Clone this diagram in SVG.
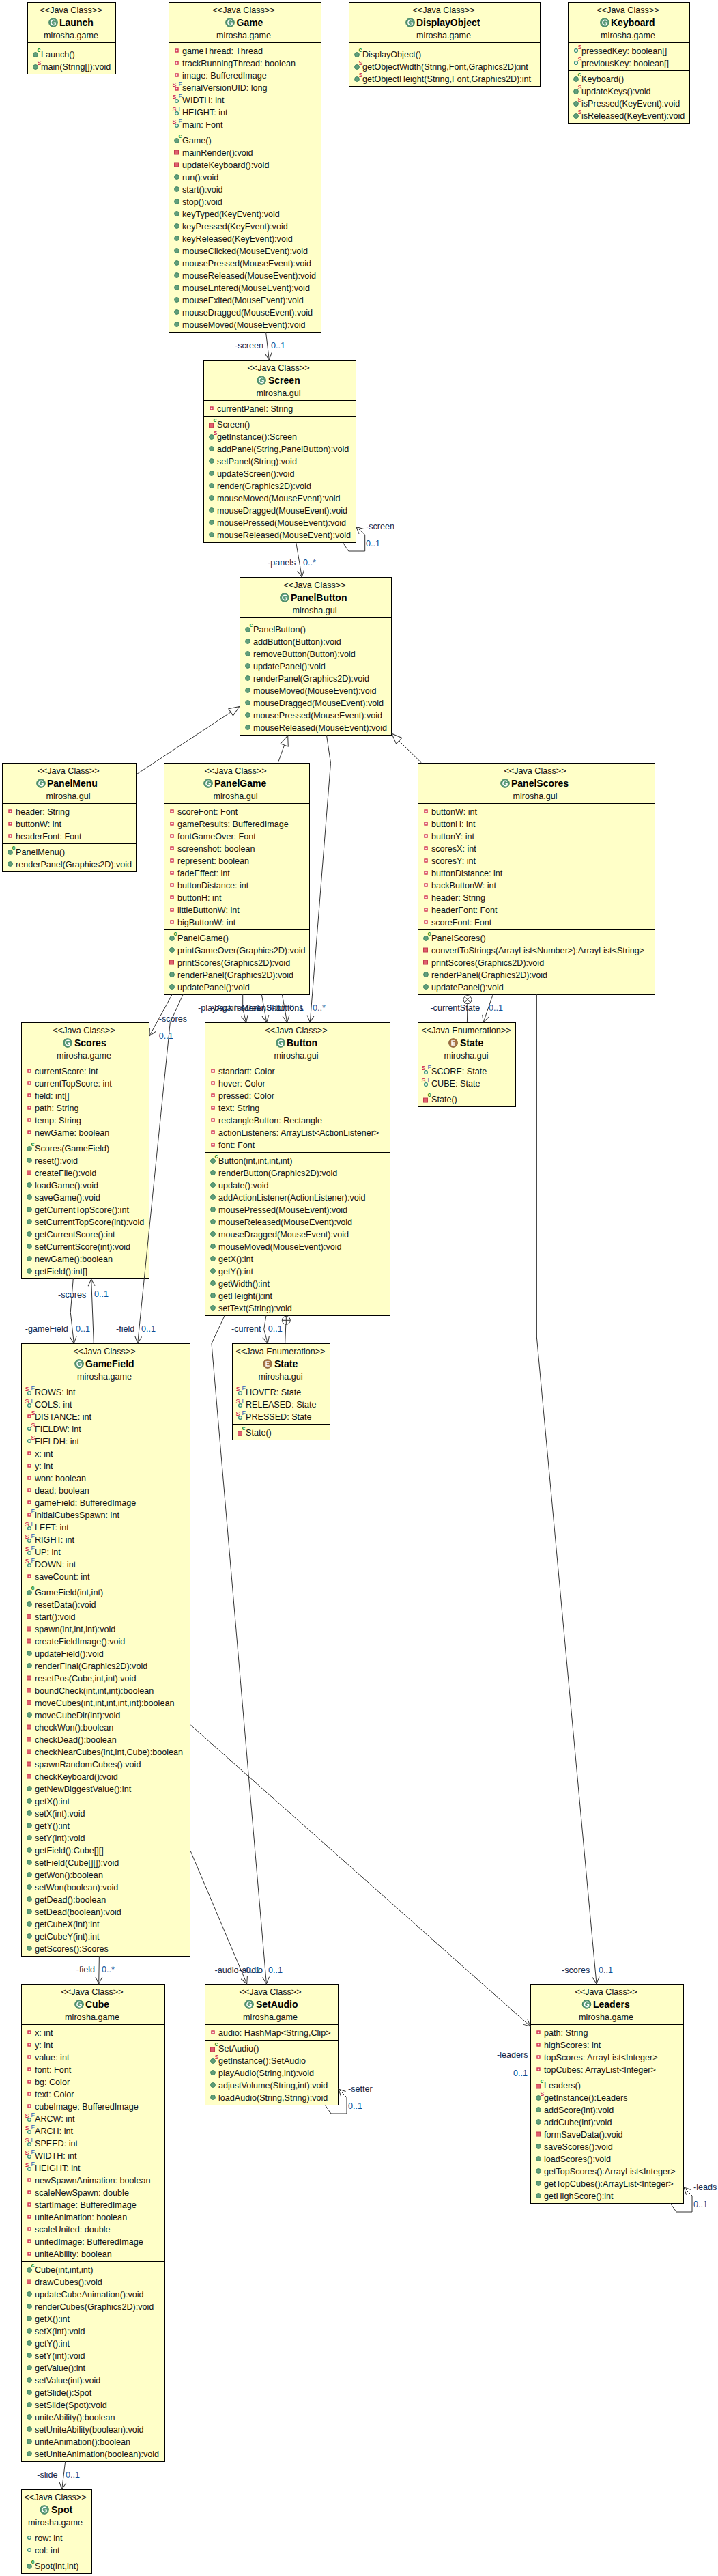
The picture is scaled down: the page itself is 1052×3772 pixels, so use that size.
<svg xmlns="http://www.w3.org/2000/svg" width="1052" height="3772" viewBox="0 0 1052 3772">
<style>
text{font-family:"Liberation Sans",Arial,sans-serif;font-size:12.6px;fill:#111}
.c{text-anchor:middle}
.n{font-weight:bold;font-size:14px;fill:#000}
.b{fill:#ffffc8;stroke:#000;stroke-width:1}
.d{fill:none;stroke:#000;stroke-width:1}
.l{fill:#12284a}
.m{fill:#0b4f96}
.a,.g{fill:none;stroke:#333;stroke-width:1}
.a{marker-end:url(#o)}
.g{marker-end:url(#t)}
.n0{fill:none;stroke:#333;stroke-width:1}
.sc{font-size:9px;font-weight:bold;fill:#0a8a2a}
.ss{font-size:9px;fill:#c8003c}
.sf{font-size:9px;fill:#2a62b8}
</style>
<defs>
<marker id="o" markerUnits="userSpaceOnUse" markerWidth="12" markerHeight="12" refX="11" refY="6" orient="auto" overflow="visible"><path d="M1 1L11 6L1 11" fill="none" stroke="#333"/></marker>
<marker id="t" markerUnits="userSpaceOnUse" markerWidth="16" markerHeight="14" refX="15" refY="7" orient="auto" overflow="visible"><path d="M0 1L15 7L0 13Z" fill="#fff" stroke="#333"/></marker>
<g id="ci"><circle r="6.3" fill="#5a9a78" stroke="#3e7f60"/><path d="M3 -2.6A3.6 3.6 0 1 0 3 2.6V0.4H0.6" fill="none" stroke="#fff" stroke-width="1.6"/></g>
<g id="ei"><circle r="6.3" fill="#a87445" stroke="#7f5630"/><path d="M2.8 -3H-2V3H2.8M-2 0H2" fill="none" stroke="#fff" stroke-width="1.5"/></g>
<circle id="mp" cx="12" cy="0" r="3.4" fill="#629f7c" stroke="#3f8562"/>
<rect id="mr" x="8.5" y="-3" width="6" height="6" fill="#e0606e" stroke="#c23a4c"/>
<rect id="fr" x="10" y="-2" width="4" height="4" fill="#fbe0e0" stroke="#d02f50" stroke-width="1.4"/>
<circle id="fp" cx="12" cy="0" r="2.4" fill="#eef6e8" stroke="#2f8a72" stroke-width="1.2"/>
<g id="mc"><use href="#mp" y="1"/><text class="sc" x="14.5" y="-3">c</text></g>
<g id="ms"><use href="#mp" y="1"/><text class="ss" x="14.5" y="-2">S</text></g>
<g id="mrc"><use href="#mr" y="2"/><text class="sc" x="14.5" y="-3">c</text></g>
<g id="fs"><use href="#fp"/><text class="ss" x="14.5" y="-2">S</text></g>
<g id="fsf"><use href="#fp" y="2"/><text class="ss" x="5.5" y="-1">S</text><text class="sf" x="14.5" y="-2">F</text></g>
<g id="frsf"><use href="#fr" y="2"/><text class="ss" x="5.5" y="-1">S</text><text class="sf" x="14.5" y="-2">F</text></g>
<g id="frs"><use href="#fr"/><text class="ss" x="14.5" y="-2">S</text></g>
<g id="frf"><use href="#fr"/><text class="sf" x="14.5" y="-2">F</text></g>
</defs>
<rect width="1052" height="3772" fill="#fff"/>

<g id="Launch" transform="translate(40,3)"><rect class="b" x=".5" y=".5" width="129" height="105"/><path class="d" d="M0 59.5H129M0 64.5H129"/>
<text class="c" x="64" y="16">&lt;&lt;Java Class&gt;&gt;</text><use href="#ci" x="38" y="30"/><text class="n" x="47" y="35">Launch</text><text class="c" x="64" y="53">mirosha.game</text>
<g transform="translate(0,64)"><use href="#mc" y="12"/><text x="20" y="16.5">Launch()</text><use href="#ms" y="30"/><text x="20" y="34.5">main(String[]):void</text></g></g>

<g id="Game" transform="translate(247,3)"><rect class="b" x=".5" y=".5" width="223" height="483"/><path class="d" d="M0 59.5H223M0 190.5H223"/>
<text class="c" x="110" y="16">&lt;&lt;Java Class&gt;&gt;</text><use href="#ci" x="90" y="30"/><text class="n" x="99.5" y="35">Game</text><text class="c" x="110" y="53">mirosha.game</text>
<g transform="translate(0,59)"><use href="#fr" y="12"/><text x="20" y="16.5">gameThread: Thread</text><use href="#fr" y="30"/><text x="20" y="34.5">trackRunningThread: boolean</text><use href="#fr" y="48"/><text x="20" y="52.5">image: BufferedImage</text><use href="#frsf" y="66"/><text x="20" y="70.5">serialVersionUID: long</text><use href="#fsf" y="84"/><text x="20" y="88.5">WIDTH: int</text><use href="#fsf" y="102"/><text x="20" y="106.5">HEIGHT: int</text><use href="#fsf" y="120"/><text x="20" y="124.5">main: Font</text></g>
<g transform="translate(0,190)"><use href="#mc" y="12"/><text x="20" y="16.5">Game()</text><use href="#mr" y="30"/><text x="20" y="34.5">mainRender():void</text><use href="#mr" y="48"/><text x="20" y="52.5">updateKeyboard():void</text><use href="#mp" y="66"/><text x="20" y="70.5">run():void</text><use href="#mp" y="84"/><text x="20" y="88.5">start():void</text><use href="#mp" y="102"/><text x="20" y="106.5">stop():void</text><use href="#mp" y="120"/><text x="20" y="124.5">keyTyped(KeyEvent):void</text><use href="#mp" y="138"/><text x="20" y="142.5">keyPressed(KeyEvent):void</text><use href="#mp" y="156"/><text x="20" y="160.5">keyReleased(KeyEvent):void</text><use href="#mp" y="174"/><text x="20" y="178.5">mouseClicked(MouseEvent):void</text><use href="#mp" y="192"/><text x="20" y="196.5">mousePressed(MouseEvent):void</text><use href="#mp" y="210"/><text x="20" y="214.5">mouseReleased(MouseEvent):void</text><use href="#mp" y="228"/><text x="20" y="232.5">mouseEntered(MouseEvent):void</text><use href="#mp" y="246"/><text x="20" y="250.5">mouseExited(MouseEvent):void</text><use href="#mp" y="264"/><text x="20" y="268.5">mouseDragged(MouseEvent):void</text><use href="#mp" y="282"/><text x="20" y="286.5">mouseMoved(MouseEvent):void</text></g></g>

<g id="DisplayObject" transform="translate(511,3)"><rect class="b" x=".5" y=".5" width="280" height="123"/><path class="d" d="M0 59.5H280M0 64.5H280"/>
<text class="c" x="139" y="16">&lt;&lt;Java Class&gt;&gt;</text><use href="#ci" x="90" y="30"/><text class="n" x="99" y="35">DisplayObject</text><text class="c" x="139" y="53">mirosha.game</text>
<g transform="translate(0,64)"><use href="#mc" y="12"/><text x="20" y="16.5">DisplayObject()</text><use href="#ms" y="30"/><text x="20" y="34.5">getObjectWidth(String,Font,Graphics2D):int</text><use href="#ms" y="48"/><text x="20" y="52.5">getObjectHeight(String,Font,Graphics2D):int</text></g></g>

<g id="Keyboard" transform="translate(832,3)"><rect class="b" x=".5" y=".5" width="178" height="177"/><path class="d" d="M0 59.5H178M0 100.5H178"/>
<text class="c" x="88" y="16">&lt;&lt;Java Class&gt;&gt;</text><use href="#ci" x="54" y="30"/><text class="n" x="63" y="35">Keyboard</text><text class="c" x="88" y="53">mirosha.game</text>
<g transform="translate(0,59)"><use href="#fs" y="12"/><text x="20" y="16.5">pressedKey: boolean[]</text><use href="#fs" y="30"/><text x="20" y="34.5">previousKey: boolean[]</text></g>
<g transform="translate(0,100)"><use href="#mc" y="12"/><text x="20" y="16.5">Keyboard()</text><use href="#ms" y="30"/><text x="20" y="34.5">updateKeys():void</text><use href="#ms" y="48"/><text x="20" y="52.5">isPressed(KeyEvent):void</text><use href="#ms" y="66"/><text x="20" y="70.5">isReleased(KeyEvent):void</text></g></g>

<g id="Screen" transform="translate(298,527)"><rect class="b" x=".5" y=".5" width="223" height="267"/><path class="d" d="M0 59.5H223M0 82.5H223"/>
<text class="c" x="110" y="16">&lt;&lt;Java Class&gt;&gt;</text><use href="#ci" x="85" y="30"/><text class="n" x="95" y="35">Screen</text><text class="c" x="110" y="53">mirosha.gui</text>
<g transform="translate(0,59)"><use href="#fr" y="12"/><text x="20" y="16.5">currentPanel: String</text></g>
<g transform="translate(0,82)"><use href="#mrc" y="12"/><text x="20" y="16.5">Screen()</text><use href="#ms" y="30"/><text x="20" y="34.5">getInstance():Screen</text><use href="#mp" y="48"/><text x="20" y="52.5">addPanel(String,PanelButton):void</text><use href="#mp" y="66"/><text x="20" y="70.5">setPanel(String):void</text><use href="#mp" y="84"/><text x="20" y="88.5">updateScreen():void</text><use href="#mp" y="102"/><text x="20" y="106.5">render(Graphics2D):void</text><use href="#mp" y="120"/><text x="20" y="124.5">mouseMoved(MouseEvent):void</text><use href="#mp" y="138"/><text x="20" y="142.5">mouseDragged(MouseEvent):void</text><use href="#mp" y="156"/><text x="20" y="160.5">mousePressed(MouseEvent):void</text><use href="#mp" y="174"/><text x="20" y="178.5">mouseReleased(MouseEvent):void</text></g></g>

<g id="PanelButton" transform="translate(351,845)"><rect class="b" x=".5" y=".5" width="222" height="231"/><path class="d" d="M0 59.5H222M0 64.5H222"/>
<text class="c" x="110" y="16">&lt;&lt;Java Class&gt;&gt;</text><use href="#ci" x="66" y="30"/><text class="n" x="75" y="35">PanelButton</text><text class="c" x="110" y="53">mirosha.gui</text>
<g transform="translate(0,64)"><use href="#mc" y="12"/><text x="20" y="16.5">PanelButton()</text><use href="#mp" y="30"/><text x="20" y="34.5">addButton(Button):void</text><use href="#mp" y="48"/><text x="20" y="52.5">removeButton(Button):void</text><use href="#mp" y="66"/><text x="20" y="70.5">updatePanel():void</text><use href="#mp" y="84"/><text x="20" y="88.5">renderPanel(Graphics2D):void</text><use href="#mp" y="102"/><text x="20" y="106.5">mouseMoved(MouseEvent):void</text><use href="#mp" y="120"/><text x="20" y="124.5">mouseDragged(MouseEvent):void</text><use href="#mp" y="138"/><text x="20" y="142.5">mousePressed(MouseEvent):void</text><use href="#mp" y="156"/><text x="20" y="160.5">mouseReleased(MouseEvent):void</text></g></g>

<g id="PanelMenu" transform="translate(3,1117)"><rect class="b" x=".5" y=".5" width="196" height="159"/><path class="d" d="M0 59.5H196M0 118.5H196"/>
<text class="c" x="97" y="16">&lt;&lt;Java Class&gt;&gt;</text><use href="#ci" x="57" y="30"/><text class="n" x="66" y="35">PanelMenu</text><text class="c" x="97" y="53">mirosha.gui</text>
<g transform="translate(0,59)"><use href="#fr" y="12"/><text x="20" y="16.5">header: String</text><use href="#fr" y="30"/><text x="20" y="34.5">buttonW: int</text><use href="#fr" y="48"/><text x="20" y="52.5">headerFont: Font</text></g>
<g transform="translate(0,118)"><use href="#mc" y="12"/><text x="20" y="16.5">PanelMenu()</text><use href="#mp" y="30"/><text x="20" y="34.5">renderPanel(Graphics2D):void</text></g></g>

<g id="PanelGame" transform="translate(240,1117)"><rect class="b" x=".5" y=".5" width="213" height="339"/><path class="d" d="M0 59.5H213M0 244.5H213"/>
<text class="c" x="105" y="16">&lt;&lt;Java Class&gt;&gt;</text><use href="#ci" x="65" y="30"/><text class="n" x="74" y="35">PanelGame</text><text class="c" x="105" y="53">mirosha.gui</text>
<g transform="translate(0,59)"><use href="#fr" y="12"/><text x="20" y="16.5">scoreFont: Font</text><use href="#fr" y="30"/><text x="20" y="34.5">gameResults: BufferedImage</text><use href="#fr" y="48"/><text x="20" y="52.5">fontGameOver: Font</text><use href="#fr" y="66"/><text x="20" y="70.5">screenshot: boolean</text><use href="#fr" y="84"/><text x="20" y="88.5">represent: boolean</text><use href="#fr" y="102"/><text x="20" y="106.5">fadeEffect: int</text><use href="#fr" y="120"/><text x="20" y="124.5">buttonDistance: int</text><use href="#fr" y="138"/><text x="20" y="142.5">buttonH: int</text><use href="#fr" y="156"/><text x="20" y="160.5">littleButtonW: int</text><use href="#fr" y="174"/><text x="20" y="178.5">bigButtonW: int</text></g>
<g transform="translate(0,244)"><use href="#mc" y="12"/><text x="20" y="16.5">PanelGame()</text><use href="#mp" y="30"/><text x="20" y="34.5">printGameOver(Graphics2D):void</text><use href="#mr" y="48"/><text x="20" y="52.5">printScores(Graphics2D):void</text><use href="#mp" y="66"/><text x="20" y="70.5">renderPanel(Graphics2D):void</text><use href="#mp" y="84"/><text x="20" y="88.5">updatePanel():void</text></g></g>

<g id="PanelScores" transform="translate(612,1117)"><rect class="b" x=".5" y=".5" width="347" height="339"/><path class="d" d="M0 59.5H347M0 244.5H347"/>
<text class="c" x="172" y="16">&lt;&lt;Java Class&gt;&gt;</text><use href="#ci" x="128" y="30"/><text class="n" x="137" y="35">PanelScores</text><text class="c" x="172" y="53">mirosha.gui</text>
<g transform="translate(0,59)"><use href="#fr" y="12"/><text x="20" y="16.5">buttonW: int</text><use href="#fr" y="30"/><text x="20" y="34.5">buttonH: int</text><use href="#fr" y="48"/><text x="20" y="52.5">buttonY: int</text><use href="#fr" y="66"/><text x="20" y="70.5">scoresX: int</text><use href="#fr" y="84"/><text x="20" y="88.5">scoresY: int</text><use href="#fr" y="102"/><text x="20" y="106.5">buttonDistance: int</text><use href="#fr" y="120"/><text x="20" y="124.5">backButtonW: int</text><use href="#fr" y="138"/><text x="20" y="142.5">header: String</text><use href="#fr" y="156"/><text x="20" y="160.5">headerFont: Font</text><use href="#fr" y="174"/><text x="20" y="178.5">scoreFont: Font</text></g>
<g transform="translate(0,244)"><use href="#mc" y="12"/><text x="20" y="16.5">PanelScores()</text><use href="#mr" y="30"/><text x="20" y="34.5">convertToStrings(ArrayList&lt;Number&gt;):ArrayList&lt;String&gt;</text><use href="#mr" y="48"/><text x="20" y="52.5">printScores(Graphics2D):void</text><use href="#mp" y="66"/><text x="20" y="70.5">renderPanel(Graphics2D):void</text><use href="#mp" y="84"/><text x="20" y="88.5">updatePanel():void</text></g></g>

<g id="PanelScoresState" transform="translate(612,1497)"><rect class="b" x=".5" y=".5" width="143" height="123"/><path class="d" d="M0 59.5H143M0 100.5H143"/>
<text class="c" x="71" y="16">&lt;&lt;Java Enumeration&gt;&gt;</text><use href="#ei" x="52" y="30"/><text class="n" x="62" y="35">State</text><text class="c" x="71" y="53">mirosha.gui</text>
<g transform="translate(0,59)"><use href="#fsf" y="12"/><text x="20" y="16.5">SCORE: State</text><use href="#fsf" y="30"/><text x="20" y="34.5">CUBE: State</text></g>
<g transform="translate(0,100)"><use href="#mrc" y="12"/><text x="20" y="16.5">State()</text></g></g>

<g id="Scores" transform="translate(31,1497)"><rect class="b" x=".5" y=".5" width="187" height="375"/><path class="d" d="M0 59.5H187M0 172.5H187"/>
<text class="c" x="92" y="16">&lt;&lt;Java Class&gt;&gt;</text><use href="#ci" x="68" y="30"/><text class="n" x="78" y="35">Scores</text><text class="c" x="92" y="53">mirosha.game</text>
<g transform="translate(0,59)"><use href="#fr" y="12"/><text x="20" y="16.5">currentScore: int</text><use href="#fr" y="30"/><text x="20" y="34.5">currentTopScore: int</text><use href="#fr" y="48"/><text x="20" y="52.5">field: int[]</text><use href="#fr" y="66"/><text x="20" y="70.5">path: String</text><use href="#fr" y="84"/><text x="20" y="88.5">temp: String</text><use href="#fr" y="102"/><text x="20" y="106.5">newGame: boolean</text></g>
<g transform="translate(0,172)"><use href="#mc" y="12"/><text x="20" y="16.5">Scores(GameField)</text><use href="#mp" y="30"/><text x="20" y="34.5">reset():void</text><use href="#mr" y="48"/><text x="20" y="52.5">createFile():void</text><use href="#mp" y="66"/><text x="20" y="70.5">loadGame():void</text><use href="#mp" y="84"/><text x="20" y="88.5">saveGame():void</text><use href="#mp" y="102"/><text x="20" y="106.5">getCurrentTopScore():int</text><use href="#mp" y="120"/><text x="20" y="124.5">setCurrentTopScore(int):void</text><use href="#mp" y="138"/><text x="20" y="142.5">getCurrentScore():int</text><use href="#mp" y="156"/><text x="20" y="160.5">setCurrentScore(int):void</text><use href="#mp" y="174"/><text x="20" y="178.5">newGame():boolean</text><use href="#mp" y="192"/><text x="20" y="196.5">getField():int[]</text></g></g>

<g id="Button" transform="translate(300,1497)"><rect class="b" x=".5" y=".5" width="271" height="429"/><path class="d" d="M0 59.5H271M0 190.5H271"/>
<text class="c" x="134" y="16">&lt;&lt;Java Class&gt;&gt;</text><use href="#ci" x="111" y="30"/><text class="n" x="120" y="35">Button</text><text class="c" x="134" y="53">mirosha.gui</text>
<g transform="translate(0,59)"><use href="#fr" y="12"/><text x="20" y="16.5">standart: Color</text><use href="#fr" y="30"/><text x="20" y="34.5">hover: Color</text><use href="#fr" y="48"/><text x="20" y="52.5">pressed: Color</text><use href="#fr" y="66"/><text x="20" y="70.5">text: String</text><use href="#fr" y="84"/><text x="20" y="88.5">rectangleButton: Rectangle</text><use href="#fr" y="102"/><text x="20" y="106.5">actionListeners: ArrayList&lt;ActionListener&gt;</text><use href="#fr" y="120"/><text x="20" y="124.5">font: Font</text></g>
<g transform="translate(0,190)"><use href="#mc" y="12"/><text x="20" y="16.5">Button(int,int,int,int)</text><use href="#mp" y="30"/><text x="20" y="34.5">renderButton(Graphics2D):void</text><use href="#mp" y="48"/><text x="20" y="52.5">update():void</text><use href="#mp" y="66"/><text x="20" y="70.5">addActionListener(ActionListener):void</text><use href="#mp" y="84"/><text x="20" y="88.5">mousePressed(MouseEvent):void</text><use href="#mp" y="102"/><text x="20" y="106.5">mouseReleased(MouseEvent):void</text><use href="#mp" y="120"/><text x="20" y="124.5">mouseDragged(MouseEvent):void</text><use href="#mp" y="138"/><text x="20" y="142.5">mouseMoved(MouseEvent):void</text><use href="#mp" y="156"/><text x="20" y="160.5">getX():int</text><use href="#mp" y="174"/><text x="20" y="178.5">getY():int</text><use href="#mp" y="192"/><text x="20" y="196.5">getWidth():int</text><use href="#mp" y="210"/><text x="20" y="214.5">getHeight():int</text><use href="#mp" y="228"/><text x="20" y="232.5">setText(String):void</text></g></g>

<g id="GameField" transform="translate(31,1967)"><rect class="b" x=".5" y=".5" width="247" height="897"/><path class="d" d="M0 59.5H247M0 352.5H247"/>
<text class="c" x="122" y="16">&lt;&lt;Java Class&gt;&gt;</text><use href="#ci" x="85" y="30"/><text class="n" x="94" y="35">GameField</text><text class="c" x="122" y="53">mirosha.game</text>
<g transform="translate(0,59)"><use href="#fsf" y="12"/><text x="20" y="16.5">ROWS: int</text><use href="#fsf" y="30"/><text x="20" y="34.5">COLS: int</text><use href="#frs" y="48"/><text x="20" y="52.5">DISTANCE: int</text><use href="#fs" y="66"/><text x="20" y="70.5">FIELDW: int</text><use href="#fs" y="84"/><text x="20" y="88.5">FIELDH: int</text><use href="#fr" y="102"/><text x="20" y="106.5">x: int</text><use href="#fr" y="120"/><text x="20" y="124.5">y: int</text><use href="#fr" y="138"/><text x="20" y="142.5">won: boolean</text><use href="#fr" y="156"/><text x="20" y="160.5">dead: boolean</text><use href="#fr" y="174"/><text x="20" y="178.5">gameField: BufferedImage</text><use href="#frf" y="192"/><text x="20" y="196.5">initialCubesSpawn: int</text><use href="#fsf" y="210"/><text x="20" y="214.5">LEFT: int</text><use href="#fsf" y="228"/><text x="20" y="232.5">RIGHT: int</text><use href="#fsf" y="246"/><text x="20" y="250.5">UP: int</text><use href="#fsf" y="264"/><text x="20" y="268.5">DOWN: int</text><use href="#fr" y="282"/><text x="20" y="286.5">saveCount: int</text></g>
<g transform="translate(0,352)"><use href="#mc" y="12"/><text x="20" y="16.5">GameField(int,int)</text><use href="#mp" y="30"/><text x="20" y="34.5">resetData():void</text><use href="#mr" y="48"/><text x="20" y="52.5">start():void</text><use href="#mr" y="66"/><text x="20" y="70.5">spawn(int,int,int):void</text><use href="#mr" y="84"/><text x="20" y="88.5">createFieldImage():void</text><use href="#mp" y="102"/><text x="20" y="106.5">updateField():void</text><use href="#mp" y="120"/><text x="20" y="124.5">renderFinal(Graphics2D):void</text><use href="#mr" y="138"/><text x="20" y="142.5">resetPos(Cube,int,int):void</text><use href="#mr" y="156"/><text x="20" y="160.5">boundCheck(int,int,int):boolean</text><use href="#mr" y="174"/><text x="20" y="178.5">moveCubes(int,int,int,int,int):boolean</text><use href="#mp" y="192"/><text x="20" y="196.5">moveCubeDir(int):void</text><use href="#mr" y="210"/><text x="20" y="214.5">checkWon():boolean</text><use href="#mr" y="228"/><text x="20" y="232.5">checkDead():boolean</text><use href="#mr" y="246"/><text x="20" y="250.5">checkNearCubes(int,int,Cube):boolean</text><use href="#mr" y="264"/><text x="20" y="268.5">spawnRandomCubes():void</text><use href="#mr" y="282"/><text x="20" y="286.5">checkKeyboard():void</text><use href="#mp" y="300"/><text x="20" y="304.5">getNewBiggestValue():int</text><use href="#mp" y="318"/><text x="20" y="322.5">getX():int</text><use href="#mp" y="336"/><text x="20" y="340.5">setX(int):void</text><use href="#mp" y="354"/><text x="20" y="358.5">getY():int</text><use href="#mp" y="372"/><text x="20" y="376.5">setY(int):void</text><use href="#mp" y="390"/><text x="20" y="394.5">getField():Cube[][]</text><use href="#mp" y="408"/><text x="20" y="412.5">setField(Cube[][]):void</text><use href="#mp" y="426"/><text x="20" y="430.5">getWon():boolean</text><use href="#mp" y="444"/><text x="20" y="448.5">setWon(boolean):void</text><use href="#mp" y="462"/><text x="20" y="466.5">getDead():boolean</text><use href="#mp" y="480"/><text x="20" y="484.5">setDead(boolean):void</text><use href="#mp" y="498"/><text x="20" y="502.5">getCubeX(int):int</text><use href="#mp" y="516"/><text x="20" y="520.5">getCubeY(int):int</text><use href="#mp" y="534"/><text x="20" y="538.5">getScores():Scores</text></g></g>

<g id="ButtonState" transform="translate(340,1967)"><rect class="b" x=".5" y=".5" width="143" height="141"/><path class="d" d="M0 59.5H143M0 118.5H143"/>
<text class="c" x="71" y="16">&lt;&lt;Java Enumeration&gt;&gt;</text><use href="#ei" x="52" y="30"/><text class="n" x="62" y="35">State</text><text class="c" x="71" y="53">mirosha.gui</text>
<g transform="translate(0,59)"><use href="#fsf" y="12"/><text x="20" y="16.5">HOVER: State</text><use href="#fsf" y="30"/><text x="20" y="34.5">RELEASED: State</text><use href="#fsf" y="48"/><text x="20" y="52.5">PRESSED: State</text></g>
<g transform="translate(0,118)"><use href="#mrc" y="12"/><text x="20" y="16.5">State()</text></g></g>

<g id="Cube" transform="translate(31,2905)"><rect class="b" x=".5" y=".5" width="210" height="699"/><path class="d" d="M0 59.5H210M0 406.5H210"/>
<text class="c" x="104" y="16">&lt;&lt;Java Class&gt;&gt;</text><use href="#ci" x="85" y="30"/><text class="n" x="94" y="35">Cube</text><text class="c" x="104" y="53">mirosha.game</text>
<g transform="translate(0,59)"><use href="#fr" y="12"/><text x="20" y="16.5">x: int</text><use href="#fr" y="30"/><text x="20" y="34.5">y: int</text><use href="#fr" y="48"/><text x="20" y="52.5">value: int</text><use href="#fr" y="66"/><text x="20" y="70.5">font: Font</text><use href="#fr" y="84"/><text x="20" y="88.5">bg: Color</text><use href="#fr" y="102"/><text x="20" y="106.5">text: Color</text><use href="#fr" y="120"/><text x="20" y="124.5">cubeImage: BufferedImage</text><use href="#fsf" y="138"/><text x="20" y="142.5">ARCW: int</text><use href="#fsf" y="156"/><text x="20" y="160.5">ARCH: int</text><use href="#fsf" y="174"/><text x="20" y="178.5">SPEED: int</text><use href="#fsf" y="192"/><text x="20" y="196.5">WIDTH: int</text><use href="#fsf" y="210"/><text x="20" y="214.5">HEIGHT: int</text><use href="#fr" y="228"/><text x="20" y="232.5">newSpawnAnimation: boolean</text><use href="#fr" y="246"/><text x="20" y="250.5">scaleNewSpawn: double</text><use href="#fr" y="264"/><text x="20" y="268.5">startImage: BufferedImage</text><use href="#fr" y="282"/><text x="20" y="286.5">uniteAnimation: boolean</text><use href="#fr" y="300"/><text x="20" y="304.5">scaleUnited: double</text><use href="#fr" y="318"/><text x="20" y="322.5">unitedImage: BufferedImage</text><use href="#fr" y="336"/><text x="20" y="340.5">uniteAbility: boolean</text></g>
<g transform="translate(0,406)"><use href="#mc" y="12"/><text x="20" y="16.5">Cube(int,int,int)</text><use href="#mr" y="30"/><text x="20" y="34.5">drawCubes():void</text><use href="#mp" y="48"/><text x="20" y="52.5">updateCubeAnimation():void</text><use href="#mp" y="66"/><text x="20" y="70.5">renderCubes(Graphics2D):void</text><use href="#mp" y="84"/><text x="20" y="88.5">getX():int</text><use href="#mp" y="102"/><text x="20" y="106.5">setX(int):void</text><use href="#mp" y="120"/><text x="20" y="124.5">getY():int</text><use href="#mp" y="138"/><text x="20" y="142.5">setY(int):void</text><use href="#mp" y="156"/><text x="20" y="160.5">getValue():int</text><use href="#mp" y="174"/><text x="20" y="178.5">setValue(int):void</text><use href="#mp" y="192"/><text x="20" y="196.5">getSlide():Spot</text><use href="#mp" y="210"/><text x="20" y="214.5">setSlide(Spot):void</text><use href="#mp" y="228"/><text x="20" y="232.5">uniteAbility():boolean</text><use href="#mp" y="246"/><text x="20" y="250.5">setUniteAbility(boolean):void</text><use href="#mp" y="264"/><text x="20" y="268.5">uniteAnimation():boolean</text><use href="#mp" y="282"/><text x="20" y="286.5">setUniteAnimation(boolean):void</text></g></g>

<g id="SetAudio" transform="translate(300,2905)"><rect class="b" x=".5" y=".5" width="195" height="177"/><path class="d" d="M0 59.5H195M0 82.5H195"/>
<text class="c" x="96" y="16">&lt;&lt;Java Class&gt;&gt;</text><use href="#ci" x="65" y="30"/><text class="n" x="75" y="35">SetAudio</text><text class="c" x="96" y="53">mirosha.game</text>
<g transform="translate(0,59)"><use href="#fr" y="12"/><text x="20" y="16.5">audio: HashMap&lt;String,Clip&gt;</text></g>
<g transform="translate(0,82)"><use href="#mrc" y="12"/><text x="20" y="16.5">SetAudio()</text><use href="#ms" y="30"/><text x="20" y="34.5">getInstance():SetAudio</text><use href="#mp" y="48"/><text x="20" y="52.5">playAudio(String,int):void</text><use href="#mp" y="66"/><text x="20" y="70.5">adjustVolume(String,int):void</text><use href="#mp" y="84"/><text x="20" y="88.5">loadAudio(String,String):void</text></g></g>

<g id="Leaders" transform="translate(777,2905)"><rect class="b" x=".5" y=".5" width="224" height="321"/><path class="d" d="M0 59.5H224M0 136.5H224"/>
<text class="c" x="111" y="16">&lt;&lt;Java Class&gt;&gt;</text><use href="#ci" x="82.5" y="30"/><text class="n" x="92" y="35">Leaders</text><text class="c" x="111" y="53">mirosha.game</text>
<g transform="translate(0,59)"><use href="#fr" y="12"/><text x="20" y="16.5">path: String</text><use href="#fr" y="30"/><text x="20" y="34.5">highScores: int</text><use href="#fr" y="48"/><text x="20" y="52.5">topScores: ArrayList&lt;Integer&gt;</text><use href="#fr" y="66"/><text x="20" y="70.5">topCubes: ArrayList&lt;Integer&gt;</text></g>
<g transform="translate(0,136)"><use href="#mrc" y="12"/><text x="20" y="16.5">Leaders()</text><use href="#ms" y="30"/><text x="20" y="34.5">getInstance():Leaders</text><use href="#mp" y="48"/><text x="20" y="52.5">addScore(int):void</text><use href="#mp" y="66"/><text x="20" y="70.5">addCube(int):void</text><use href="#mr" y="84"/><text x="20" y="88.5">formSaveData():void</text><use href="#mp" y="102"/><text x="20" y="106.5">saveScores():void</text><use href="#mp" y="120"/><text x="20" y="124.5">loadScores():void</text><use href="#mp" y="138"/><text x="20" y="142.5">getTopScores():ArrayList&lt;Integer&gt;</text><use href="#mp" y="156"/><text x="20" y="160.5">getTopCubes():ArrayList&lt;Integer&gt;</text><use href="#mp" y="174"/><text x="20" y="178.5">getHighScore():int</text></g></g>

<g id="Spot" transform="translate(31,3645)"><rect class="b" x=".5" y=".5" width="103" height="123"/><path class="d" d="M0 59.5H103M0 100.5H103"/>
<text class="c" x="50" y="16">&lt;&lt;Java Class&gt;&gt;</text><use href="#ci" x="34" y="30"/><text class="n" x="44" y="35">Spot</text><text class="c" x="50" y="53">mirosha.game</text>
<g transform="translate(0,59)"><use href="#fp" y="12"/><text x="20" y="16.5">row: int</text><use href="#fp" y="30"/><text x="20" y="34.5">col: int</text></g>
<g transform="translate(0,100)"><use href="#mc" y="12"/><text x="20" y="16.5">Spot(int,int)</text></g></g>

<g id="connectors">
<path class="a" d="M389.5 486L394.3 527"/>
<path class="a" d="M502 794L510.7 807H534.7V783L522 771.4"/>
<path class="a" d="M433.7 794L442.3 845"/>
<path class="g" d="M199.7 1134L350.7 1034.6"/>
<path class="g" d="M407.3 1117L421.7 1077"/>
<path class="g" d="M617.5 1117L574 1074.3"/>
<path class="a" d="M478.4 1076L484.5 1117.3L454.3 1497"/>
<path class="a" d="M355.7 1456L355.7 1477L360.7 1497"/>
<path class="a" d="M383.3 1456L387 1477L390.7 1497"/>
<path class="a" d="M413.3 1456L420.7 1497"/>
<path class="a" d="M252.3 1456L219 1516.7"/>
<path class="a" d="M268.3 1456L249.3 1497.3L201.7 1967"/>
<path class="a" d="M107.3 1872L103.3 1921.7L108.3 1967"/>
<path class="a" d="M137.3 1967L133.7 1873"/>
<path class="a" d="M390 1926L386.7 1946.7L392.3 1967"/>
<path class="n0" d="M417.7 1967L418.8 1939.3M413.3 1933.3H425.3M419.3 1927.3V1939.3"/><circle class="n0" cx="419.3" cy="1933.3" r="6"/>
<path class="a" d="M329.3 1926L310 1967.3L390.4 2905"/>
<path class="a" d="M279.4 2711L361.7 2905"/>
<path class="a" d="M145.4 2864L144.7 2905"/>
<path class="a" d="M95.7 3604L90.7 3645"/>
<path class="a" d="M279.4 2526L777 2967"/>
<path class="a" d="M786.4 1456V1958L874 2905"/>
<path class="a" d="M722.3 1456L708.2 1497"/>
<path class="n0" d="M685 1470L684.4 1497M681 1459.7L689 1467.7M689 1459.7L681 1467.7"/><circle class="n0" cx="685" cy="1463.7" r="6"/>
<path class="a" d="M476 3082L485 3095H508V3071L496 3059"/>
<path class="a" d="M982 3226L991 3239H1014V3215L1002 3203"/>
<g id="labels">
<text class="l" x="344" y="510">-screen</text><text class="m" x="397" y="510">0..1</text>
<text class="l" x="536" y="775">-screen</text><text class="m" x="536" y="800">0..1</text>
<text class="l" x="392" y="828">-panels</text><text class="m" x="444" y="828">0..*</text>
<text class="l" x="290" y="1480">-playAgain</text><text class="m" x="361" y="1480">0..1</text>
<text class="l" x="310" y="1480">-backToMenu</text><text class="m" x="391" y="1480">0..1</text>
<text class="l" x="348" y="1480">-screenShot</text><text class="m" x="424" y="1480">0..1</text>
<text class="l" x="399" y="1480">-buttons</text><text class="m" x="458" y="1480">0..*</text>
<text class="l" x="232.7" y="1496">-scores</text><text class="m" x="232.7" y="1521">0..1</text>
<text class="l" x="630.4" y="1480">-currentState</text><text class="m" x="716" y="1480">0..1</text>
<text class="l" x="85" y="1900">-scores</text><text class="m" x="138" y="1899">0..1</text>
<text class="l" x="36.7" y="1950">-gameField</text><text class="m" x="111" y="1950">0..1</text>
<text class="l" x="170" y="1950">-field</text><text class="m" x="207" y="1950">0..1</text>
<text class="l" x="339" y="1950">-current</text><text class="m" x="392.7" y="1950">0..1</text>
<text class="l" x="111.7" y="2888">-field</text><text class="m" x="149" y="2888">0..*</text>
<text class="l" x="314.6" y="2889">-audio</text><text class="m" x="360" y="2889">0..1</text>
<text class="l" x="350" y="2889">-audio</text><text class="m" x="393" y="2889">0..1</text>
<text class="l" x="823" y="2889">-scores</text><text class="m" x="877" y="2889">0..1</text>
<text class="l" x="510" y="3063">-setter</text><text class="m" x="510" y="3088">0..1</text>
<text class="l" x="728" y="3013">-leaders</text><text class="m" x="752" y="3040">0..1</text>
<text class="l" x="1016" y="3207">-leads</text><text class="m" x="1016" y="3232">0..1</text>
<text class="l" x="54.3" y="3628">-slide</text><text class="m" x="96" y="3628">0..1</text>
</g>
</g>
</svg>
